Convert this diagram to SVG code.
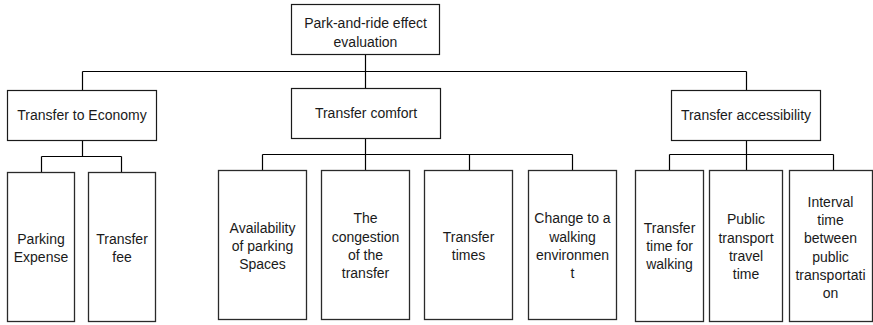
<svg xmlns="http://www.w3.org/2000/svg" width="873" height="325" viewBox="0 0 873 325">
  <style>
    .box { fill: #ffffff; stroke: #1a1a1a; stroke-width: 1.2; }
    .leaf { fill: #ffffff; stroke: #2a2a2a; stroke-width: 1.3; }
    .wire { fill: none; stroke: #000000; stroke-width: 1.2; }
    text { font-family: "Liberation Sans", Arial, sans-serif; font-size: 14px; fill: #1a1a1a; text-anchor: middle; }
  </style>
  <rect width="873" height="325" fill="#ffffff"/>

  <!-- connectors -->
  <g id="connectors" class="wire">
    <path d="M365.5 54.5 V71.5 M82.5 71.5 H746.5 M82.5 71.5 V90.5 M365.5 71.5 V88.5 M746.5 71.5 V90.5"/>
    <path d="M82.5 140.5 V156.5 M41.5 156.5 H121.5 M41.5 156.5 V172.5 M121.5 156.5 V172.5"/>
    <path d="M365.5 138.5 V154.5 M262.5 154.5 H572.5 M262.5 154.5 V170.5 M365.5 154.5 V170.5 M469.5 154.5 V170.5 M572.5 154.5 V170.5"/>
    <path d="M746.5 140.5 V154.5 M669.5 154.5 H833.5 M669.5 154.5 V170.5 M746.5 154.5 V170.5 M833.5 154.5 V170.5"/>
  </g>

  <!-- root -->
  <g id="root">
    <rect class="box" x="291.5" y="4.5" width="148" height="50"/>
    <text x="365.5" y="27.5">Park-and-ride effect</text>
    <text x="365.5" y="46.5">evaluation</text>
  </g>

  <!-- second level -->
  <g id="economy">
    <rect class="box" x="7.5" y="90.5" width="149" height="50"/>
    <text x="82" y="120">Transfer to Economy</text>
  </g>
  <g id="comfort">
    <rect class="box" x="291.5" y="88.5" width="149" height="50"/>
    <text x="366" y="118">Transfer comfort</text>
  </g>
  <g id="accessibility">
    <rect class="box" x="671.5" y="90.5" width="149" height="50"/>
    <text x="746" y="120">Transfer accessibility</text>
  </g>

  <!-- economy leaves -->
  <g id="parking-expense">
    <rect class="leaf" x="7.5" y="172.5" width="67" height="149"/>
    <text x="41" y="244">Parking</text>
    <text x="41" y="262">Expense</text>
  </g>
  <g id="transfer-fee">
    <rect class="leaf" x="88.5" y="172.5" width="67" height="149"/>
    <text x="122" y="244">Transfer</text>
    <text x="122" y="262">fee</text>
  </g>

  <!-- comfort leaves -->
  <g id="parking-spaces">
    <rect class="leaf" x="218.5" y="170.5" width="88" height="149"/>
    <text x="262.5" y="233">Availability</text>
    <text x="262.5" y="251">of parking</text>
    <text x="262.5" y="269">Spaces</text>
  </g>
  <g id="congestion">
    <rect class="leaf" x="321.5" y="170.5" width="88" height="149"/>
    <text x="365.5" y="223">The</text>
    <text x="365.5" y="241.5">congestion</text>
    <text x="365.5" y="259.5">of the</text>
    <text x="365.5" y="277.5">transfer</text>
  </g>
  <g id="transfer-times">
    <rect class="leaf" x="424.5" y="170.5" width="88" height="149"/>
    <text x="468.5" y="241.5">Transfer</text>
    <text x="468.5" y="259.5">times</text>
  </g>
  <g id="walking-environment">
    <rect class="leaf" x="528.5" y="170.5" width="88" height="149"/>
    <text x="572.5" y="223">Change to a</text>
    <text x="572.5" y="241.5">walking</text>
    <text x="572.5" y="259.5">environmen</text>
    <text x="572.5" y="277.5">t</text>
  </g>

  <!-- accessibility leaves -->
  <g id="walking-time">
    <rect class="leaf" x="635.5" y="170.5" width="68" height="151"/>
    <text x="669.5" y="233">Transfer</text>
    <text x="669.5" y="251">time for</text>
    <text x="669.5" y="269">walking</text>
  </g>
  <g id="travel-time">
    <rect class="leaf" x="709.5" y="170.5" width="73" height="151"/>
    <text x="746" y="224">Public</text>
    <text x="746" y="242.5">transport</text>
    <text x="746" y="260.5">travel</text>
    <text x="746" y="278.5">time</text>
  </g>
  <g id="interval-time">
    <rect class="leaf" x="789.5" y="170.5" width="83" height="151"/>
    <text x="830.5" y="206.5">Interval</text>
    <text x="830.5" y="224.5">time</text>
    <text x="830.5" y="243">between</text>
    <text x="830.5" y="261.5">public</text>
    <text x="830.5" y="280">transportati</text>
    <text x="830.5" y="298">on</text>
  </g>
</svg>
